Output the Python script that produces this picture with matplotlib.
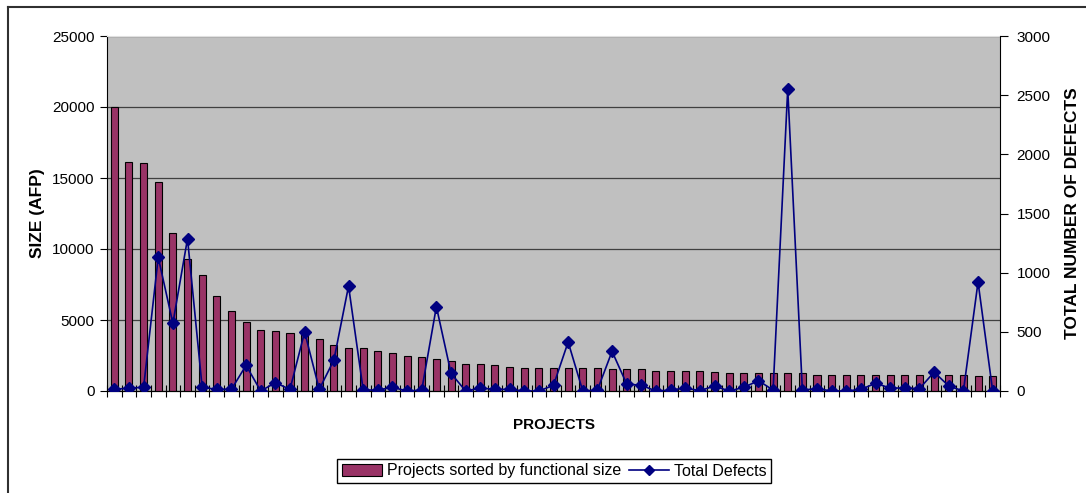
import numpy as np
import matplotlib.pyplot as plt
from matplotlib.lines import Line2D
from matplotlib.patches import Patch

plt.rcParams['font.family'] = ['Liberation Sans', 'DejaVu Sans']

# size of each project (AFP), sorted descending
size_afp = [20000, 16150, 16080, 14700, 11100, 9270, 8200, 6690, 5630, 4860,
            4300, 4200, 4110, 4010, 3640, 3240, 3030, 3020, 2840, 2700,
            2460, 2370, 2280, 2090, 1900, 1900, 1810, 1710, 1620, 1620,
            1620, 1620, 1620, 1620, 1530, 1530, 1530, 1430, 1430, 1430,
            1430, 1340, 1240, 1240, 1240, 1240, 1240, 1240, 1150, 1150,
            1150, 1150, 1150, 1150, 1150, 1150, 1150, 1150, 1150, 1060, 1060]

# total defects per project
defects = [14, 25, 31, 1130, 572, 1287, 31, 14, 14, 217,
           0, 70, 14, 499, 14, 262, 887, 8, 8, 31,
           0, 8, 713, 149, 0, 25, 14, 14, 0, 0,
           48, 414, 0, 8, 335, 59, 48, 0, 8, 25,
           3, 42, 0, 31, 87, 8, 2552, 8, 20, 0,
           0, 14, 65, 25, 25, 20, 160, 42, 0, 921, 0]

x = np.arange(len(size_afp))

fig = plt.figure(figsize=(10.86, 4.93), dpi=100)
ax = fig.add_axes([107 / 1086, 1 - 391 / 493, 893 / 1086, 355 / 493])
ax.set_facecolor('#c0c0c0')

ax.bar(x, size_afp, width=0.48, color='#993366', edgecolor='black', linewidth=0.8, zorder=3)
ax.set_xlim(-0.5, len(size_afp) - 0.5)
ax.set_ylim(0, 25000)
ax.set_yticks(range(0, 25001, 5000))
ax.yaxis.grid(True, color='#404040', linewidth=0.9, zorder=1)
ax.set_axisbelow(True)
ax.set_xticks(np.arange(-0.5, len(size_afp), 1))
ax.set_xticklabels([])
ax.tick_params(axis='x', direction='inout', length=8, width=0.8)
ax.tick_params(axis='y', direction='out', length=5, labelsize=11, pad=4)
ax.spines['top'].set_color('#e0e0e0')
ax.spines['right'].set_visible(False)
ax.set_ylabel('SIZE (AFP)', fontsize=12.5, fontweight='bold', labelpad=5)
ax.set_xlabel('PROJECTS', fontsize=11, fontweight='bold', labelpad=12)

ax2 = ax.twinx()
ax2.plot(x, defects, color='#000080', linewidth=1.2, marker='D', markersize=6,
         markerfacecolor='#000080', markeredgecolor='#000080', zorder=5)
ax2.set_ylim(0, 3000)
ax2.set_yticks(range(0, 3001, 500))
ax2.tick_params(axis='y', direction='out', length=6, labelsize=11, pad=6)
ax2.spines['top'].set_visible(False)
ax2.spines['left'].set_visible(False)
ax2.set_ylabel('TOTAL NUMBER OF DEFECTS', fontsize=12.5, fontweight='bold', labelpad=10)

handles = [Patch(facecolor='#993366', edgecolor='black', linewidth=0.8),
           Line2D([0], [0], color='#000080', linewidth=1.2, marker='D', markersize=5)]
fig.legend(handles, ['Projects sorted by functional size', 'Total Defects'],
           loc='center', bbox_to_anchor=(554 / 1086, 1 - 471 / 493), ncol=2,
           fontsize=11.5, frameon=True, fancybox=False, edgecolor='black',
           handlelength=2.5, handletextpad=0.3, columnspacing=0.5,
           borderpad=0.3, framealpha=1)

# outer chart border (left and top edges)
fig.add_artist(Line2D([8 / 1086, 8 / 1086], [0, 1 - 7 / 493], color='#303030', linewidth=1.5))
fig.add_artist(Line2D([8 / 1086, 1], [1 - 7 / 493, 1 - 7 / 493], color='#303030', linewidth=1.5))

fig.savefig('out.png', dpi=100)
